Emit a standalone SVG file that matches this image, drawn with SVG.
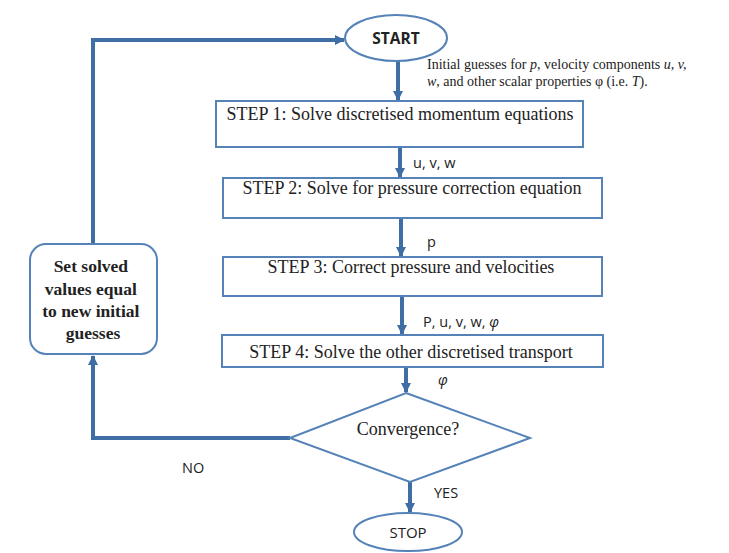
<svg xmlns="http://www.w3.org/2000/svg" width="729" height="553" viewBox="0 0 729 553">
<style>
.box{fill:#fff;stroke:#5582b7;stroke-width:2}
.con{fill:none;stroke:#3f6ea5;stroke-width:4}
.serif{font-family:"Liberation Serif","Times New Roman",serif;fill:#222}
.sans{font-family:"Open Sans","Liberation Sans",sans-serif;fill:#222}
.step{font-size:18px;text-anchor:middle}
.lab{font-size:14.5px}
</style>
<defs>
<marker id="ah" viewBox="0 0 10 10" refX="9" refY="5" markerWidth="2.5" markerHeight="2.5" orient="auto" markerUnits="strokeWidth">
<path d="M0,0 L10,5 L0,10 z" fill="#3f6ea5"/>
</marker>
</defs>
<rect width="729" height="553" fill="#fff"/>
<g id="connectors">
<line class="con" x1="398" y1="61" x2="398" y2="100" marker-end="url(#ah)"/>
<line class="con" x1="400" y1="148" x2="400" y2="177" marker-end="url(#ah)"/>
<line class="con" x1="401" y1="219" x2="401" y2="256" marker-end="url(#ah)"/>
<line class="con" x1="402" y1="297" x2="402" y2="334" marker-end="url(#ah)"/>
<line class="con" x1="406" y1="368" x2="406" y2="392" marker-end="url(#ah)"/>
<line class="con" x1="410" y1="482" x2="410" y2="512" marker-end="url(#ah)"/>
<polyline class="con" points="290,438 93,438 93,356" marker-end="url(#ah)"/>
<polyline class="con" points="93,243 93,40 344,40" marker-end="url(#ah)"/>
<text class="sans lab" x="413" y="168">u, v, w</text>
<text class="sans lab" x="427" y="247">p</text>
<text class="sans lab" x="423" y="327" font-size="15.5">P, u, v, w, <tspan font-style="italic">φ</tspan></text>
<text class="sans lab" x="438" y="385" font-style="italic">φ</text>
<text class="sans lab" x="182" y="473">NO</text>
<text class="sans lab" x="434" y="498">YES</text>
</g>
<g id="start">
<ellipse class="box" cx="396" cy="38" rx="51" ry="23"/>
<text class="sans" x="396" y="44" font-size="15.5" font-weight="bold" text-anchor="middle">START</text>
</g>
<g id="note">
<text class="serif" x="427" y="69" font-size="14">Initial guesses for <tspan font-style="italic">p</tspan>, velocity components <tspan font-style="italic">u, v,</tspan></text>
<text class="serif" x="427" y="86" font-size="14"><tspan font-style="italic">w</tspan>, and other scalar properties φ (i.e. <tspan font-style="italic">T</tspan>).</text>
</g>
<g id="step1">
<rect class="box" x="216" y="101" width="367" height="46"/>
<text class="serif step" x="400" y="120">STEP 1: Solve discretised momentum equations</text>
</g>
<g id="step2">
<rect class="box" x="223" y="178" width="379" height="40"/>
<text class="serif step" x="412" y="194">STEP 2: Solve for pressure correction equation</text>
</g>
<g id="step3">
<rect class="box" x="223" y="257" width="379" height="39"/>
<text class="serif step" x="411" y="273">STEP 3: Correct pressure and velocities</text>
</g>
<g id="step4">
<rect class="box" x="222" y="335" width="381" height="32"/>
<text class="serif step" x="411" y="358">STEP 4: Solve the other discretised transport</text>
</g>
<g id="convergence">
<polygon class="box" points="406,393 530,438 410,482 290,438"/>
<text class="serif" x="408" y="435" font-size="18" text-anchor="middle">Convergence?</text>
</g>
<g id="reset">
<rect class="box" x="30" y="244" width="127" height="110" rx="16"/>
<text class="serif" font-size="17.5" font-weight="bold" text-anchor="middle">
<tspan x="93" y="272">Set solved</tspan>
<tspan x="93" y="295">values equal</tspan>
<tspan x="93" y="317">to new initial</tspan>
<tspan x="93" y="339">guesses</tspan>
</text>
</g>
<g id="stop">
<ellipse class="box" cx="408" cy="532" rx="54" ry="19"/>
<text class="sans" x="408" y="538" font-size="15" text-anchor="middle">STOP</text>
</g>
</svg>
